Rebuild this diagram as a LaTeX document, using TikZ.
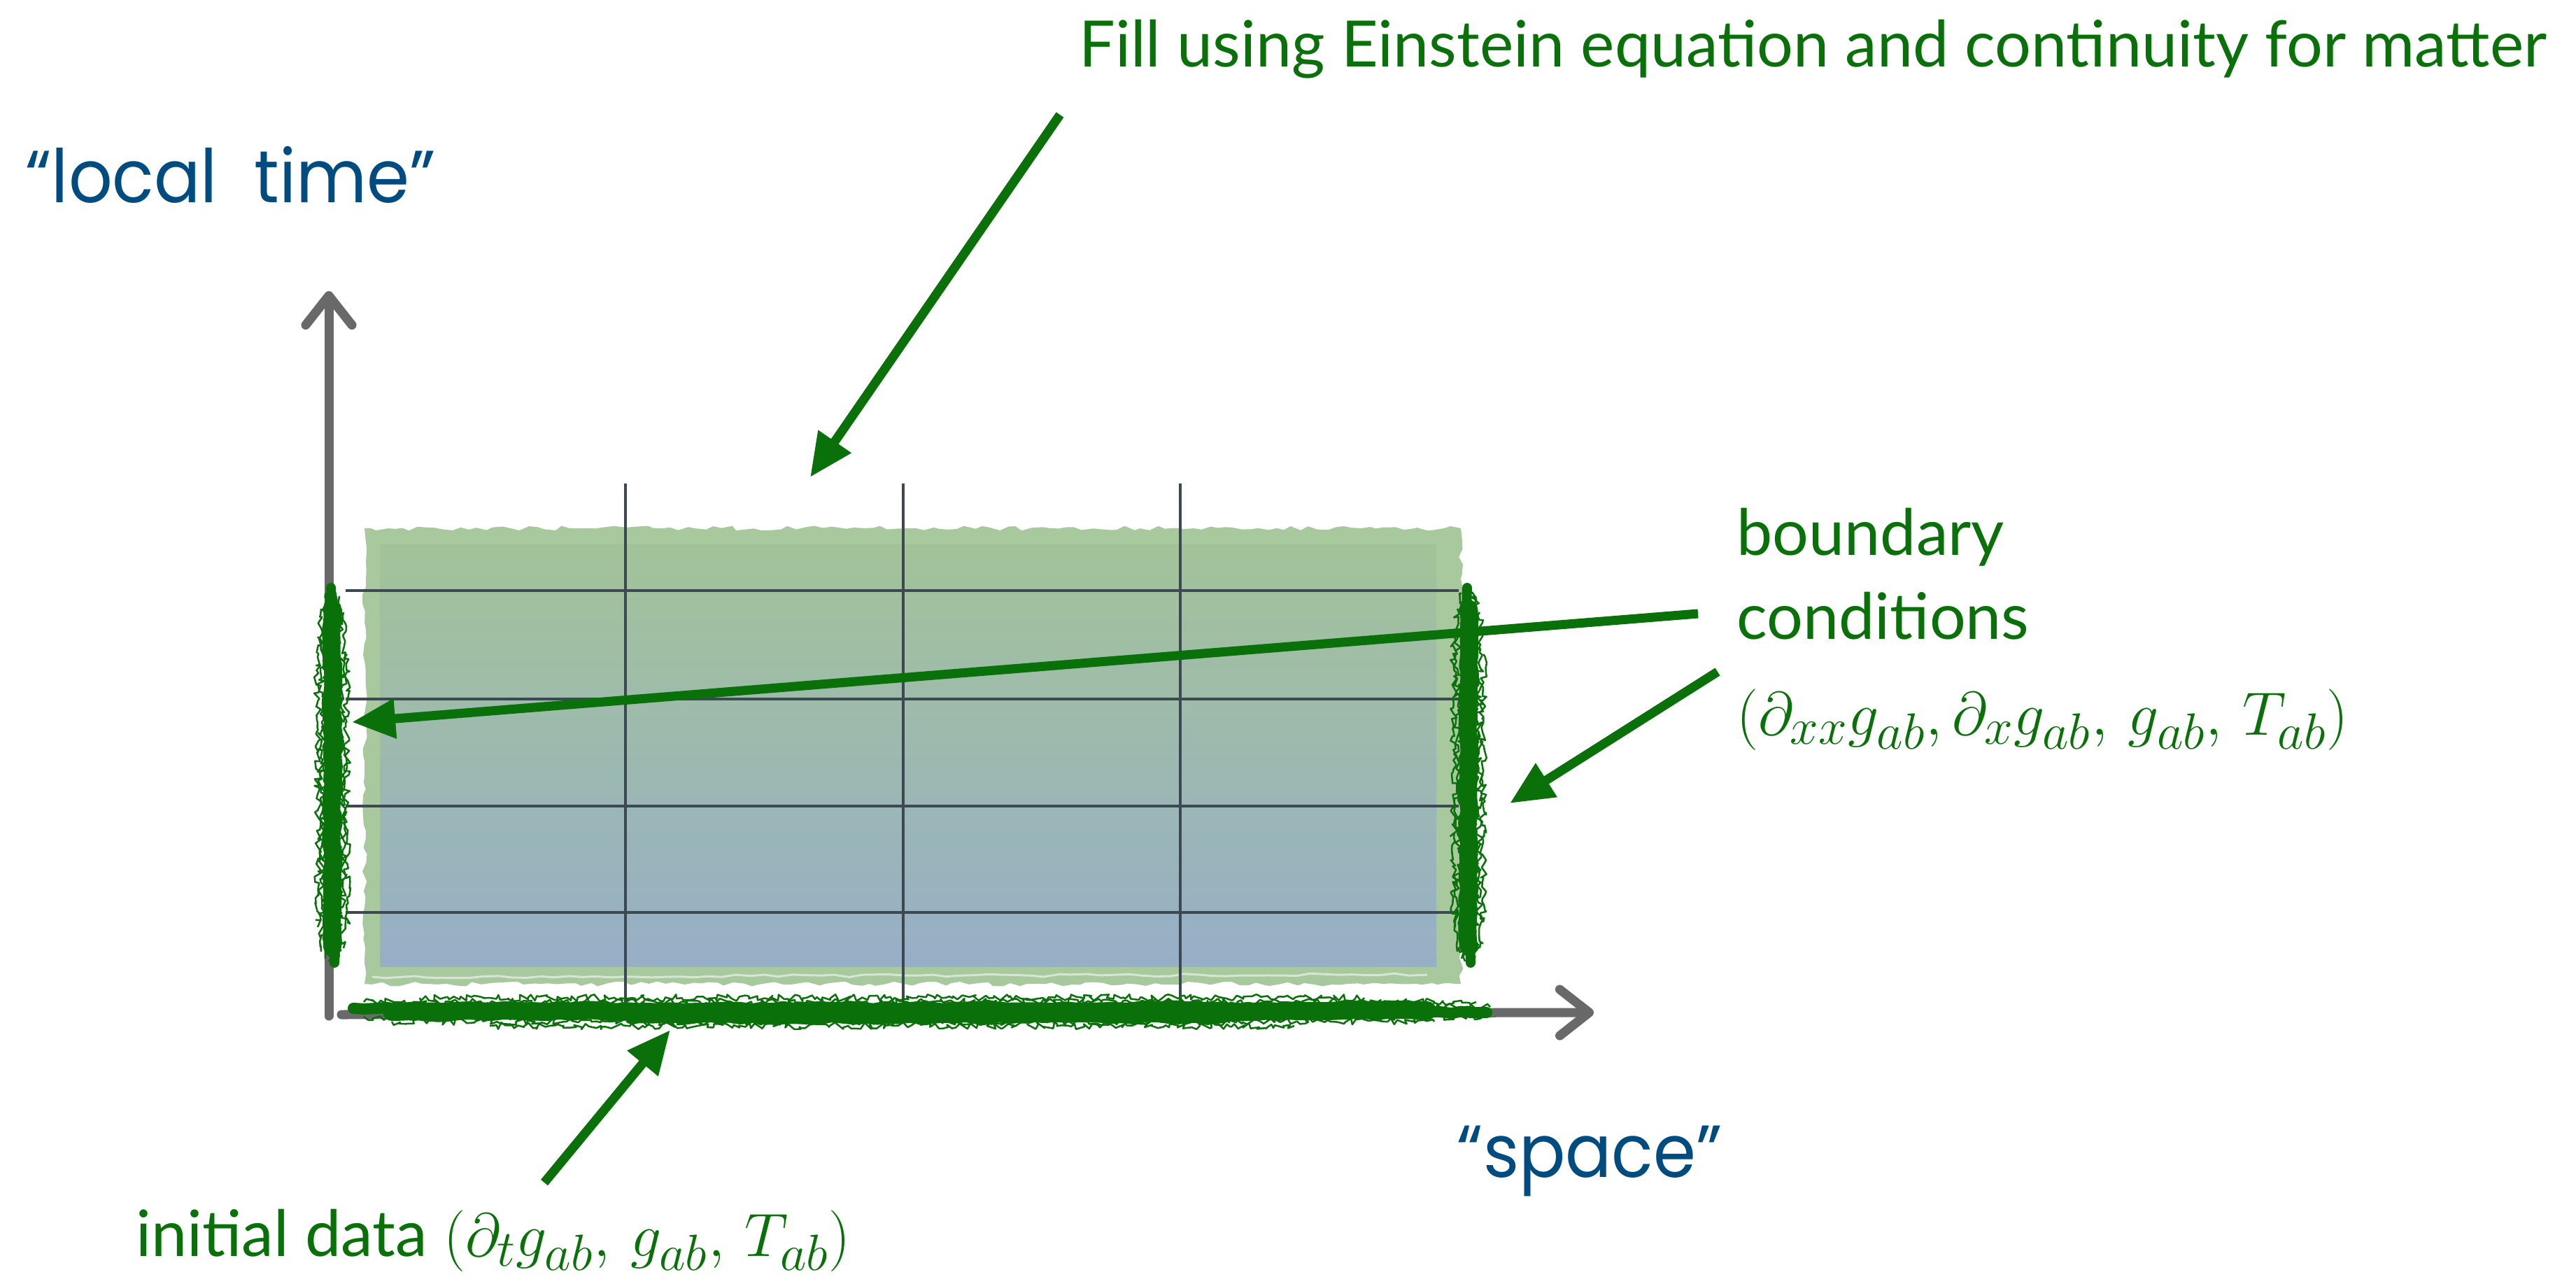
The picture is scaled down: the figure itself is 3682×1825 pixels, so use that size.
\documentclass[tikz,border=0pt]{standalone}
\usepackage{fontspec}
\setmainfont{Lato}
\newfontfamily\handfont[FakeStretch=0.93]{Poppins}
\usetikzlibrary{arrows.meta,decorations.pathmorphing}

\definecolor{leafgreen}{RGB}{10,112,10}
\definecolor{inkblue}{RGB}{0,75,128}
\definecolor{axisgray}{RGB}{105,105,105}
\definecolor{gridink}{RGB}{60,72,82}
\definecolor{bandgreen}{RGB}{168,200,158}
\definecolor{topgreen}{RGB}{162,195,153}
\definecolor{bottomblue}{RGB}{151,175,199}

\tikzset{
  greentext/.style={text=leafgreen,font=\fontsize{26}{34}\selectfont,inner sep=0pt},
  greenmath/.style={greentext,font=\fontsize{28}{34}\selectfont},
  handtext/.style={text=inkblue,font=\handfont\fontsize{30}{36}\selectfont,inner sep=0pt},
  greenarrow/.style={draw=leafgreen,line width=0.13cm,-{Triangle[length=0.62cm,width=0.54cm]}},
  axisline/.style={draw=axisgray,line width=0.13cm,line cap=round,
    -{Straight Barb[length=0.42cm,width=0.66cm,line cap=round,line join=round]}},
  gridline/.style={draw=gridink,line width=0.035cm},
  brushcore/.style={draw=leafgreen,line join=round,line cap=round,decorate,
    decoration={random steps,segment length=0.16cm,amplitude=0.02cm}},
  brushhair/.style={draw=leafgreen,line width=0.025cm,line join=round,decorate,
    decoration={random steps,segment length=0.05cm,amplitude=0.05cm}},
}

\begin{document}
\begin{tikzpicture}[x=0.01cm,y=-0.01cm]
  \pgfmathsetseed{41}
  \useasboundingbox (0,0) rectangle (3682,1825);
  % ---------------- filled region ----------------
  \fill[bandgreen,decorate,decoration={random steps,segment length=0.12cm,amplitude=0.035cm}]
    (521,755) rectangle (2088,1406);
  \shade[top color=topgreen,bottom color=bottomblue] (543,778) rectangle (2053,1381);
  \draw[white,opacity=0.55,line width=0.03cm,decorate,
    decoration={random steps,segment length=0.2cm,amplitude=0.02cm}] (532,1396) -- (2040,1393);
  % ---------------- grid ----------------
  \foreach \gx in {894,1291,1687}
    \draw[gridline] (\gx,691) -- (\gx,1454);
  \foreach \gy in {844,999,1152,1304}
    \draw[gridline] (494,\gy) -- (2085,\gy);
  % ---------------- axes ----------------
  \coordinate (origin) at (470,1452);
  \coordinate (timeTip) at (470,416);
  \coordinate (spaceTip) at (2278,1447);
  \draw[axisline] (origin) -- (timeTip);
  \draw[axisline] (origin) ++(18,-2) -- (spaceTip);
  % ---------------- boundary and initial data strokes ----------------
  \foreach \bx in {475,2099}{
    \draw[brushcore,line width=0.26cm] (\bx,870) -- (\bx,1352);
    \draw[brushcore,line width=0.14cm] (\bx-2,840) -- (\bx+3,1376);
    \foreach \dx/\ya/\yb in {-21/910/1325,-16/870/1360,-10/848/1370,-5/842/1374,5/846/1372,10/852/1368,16/875/1355,21/935/1318}
      \draw[brushhair] (\bx+\dx,\ya) -- (\bx+\dx,\yb);
  }
  \draw[brushcore,line width=0.26cm] (560,1446) -- (2040,1444);
  \draw[brushcore,line width=0.16cm] (505,1441) -- (2125,1447);
  \draw[brushcore,line width=0.12cm] (900,1457) -- (1750,1456);
  \foreach \dy/\xa/\xb in {-20/600/1950,-14/520/2110,-7/505/2130,7/520/2120,14/560/2050,20/700/1850}
    \draw[brushhair] (\xa,1446+\dy) -- (\xb,1446+\dy);
  % ---------------- labels ----------------
  \node[handtext,anchor=base west] (localtime) at (36,290) {“local~~time”};
  \node[handtext,anchor=base west] (space) at (2082,1682) {“space”};
  \node[greentext,anchor=base west] (filltext) at (1542,96)
    {Fill using Einstein equation and continuity for matter};
  \node[greentext,anchor=base west] (boundary) at (2482,793) {boundary};
  \node[greentext,anchor=base west] (conditions) at (2482,913) {conditions};
  \node[greenmath,anchor=base west] (bcdata) at (2482,1050)
    {$(\partial_{xx}g_{ab}, \partial_x g_{ab},\, g_{ab},\, T_{ab})$};
  \node[greentext,anchor=base west] (initdata) at (194,1795)
    {initial data {\fontsize{29}{34}\selectfont$(\partial_t g_{ab},\, g_{ab},\, T_{ab})$}};
  % ---------------- arrows ----------------
  \coordinate (fillFrom) at (1515,164);
  \coordinate (fillTo) at (1158,682);
  \coordinate (leftFrom) at (2427,877);
  \coordinate (leftTo) at (503,1032);
  \coordinate (rightFrom) at (2455,960);
  \coordinate (rightTo) at (2158,1148);
  \coordinate (initFrom) at (778,1690);
  \coordinate (initTo) at (958,1472);
  \draw[greenarrow] (fillFrom) -- (fillTo);
  \draw[greenarrow] (leftFrom) -- (leftTo);
  \draw[greenarrow] (rightFrom) -- (rightTo);
  \draw[greenarrow] (initFrom) -- (initTo);
\end{tikzpicture}
\end{document}
